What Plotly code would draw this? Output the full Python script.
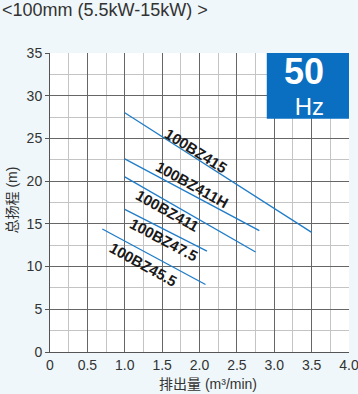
import plotly.graph_objects as go

# Data
models = ["100BZ415", "100BZ411H", "100BZ411", "100BZ47.5", "100BZ45.5"]
flow_start = [1.0, 1.0, 1.0, 1.0, 0.7]
flow_end = [3.5, 2.8, 2.75, 2.1, 2.08]
head_start = [28.0, 22.6, 20.5, 16.7, 14.4]
head_end = [14.0, 14.2, 11.7, 11.8, 7.9]
label_x = [1.95, 1.9, 1.57, 1.52, 1.25]
label_y = [23.6, 19.6, 16.6, 13.2, 10.2]
label_angle = [32, 29, 29, 28, 29]

x_ticks = [0, 0.5, 1.0, 1.5, 2.0, 2.5, 3.0, 3.5, 4.0]
x_tick_text = ["0", "0.5", "1.0", "1.5", "2.0", "2.5", "3.0", "3.5", "4.0"]
y_ticks = [0, 5, 10, 15, 20, 25, 30, 35]

FONT = "Liberation Sans, Arial, Noto Sans CJK SC, sans-serif"
LINE_COLOR = "#1f7cc9"
BLUE_BOX = "#0a6fc0"

fig = go.Figure()
for i, m in enumerate(models):
    fig.add_trace(go.Scatter(
        x=[flow_start[i], flow_end[i]],
        y=[head_start[i], head_end[i]],
        mode="lines",
        line=dict(color=LINE_COLOR, width=1.3),
        showlegend=False,
        hoverinfo="skip",
    ))
    fig.add_annotation(
        x=label_x[i], y=label_y[i], xref="x", yref="y",
        text="<b>" + m + "</b>", showarrow=False, textangle=label_angle[i],
        font=dict(family=FONT, size=15, color="#1a1a1a"),
    )

# 50 Hz box
fig.add_shape(type="rect", xref="x", yref="y", x0=2.9, x1=4.0, y0=27.3, y1=35,
              fillcolor=BLUE_BOX, line=dict(width=0), layer="above")
fig.add_annotation(x=3.69, y=31.25, xref="x", yref="y", xanchor="right", yanchor="middle",
                   align="right", showarrow=False,
                   text="<b><span style='font-size:36px'>50</span></b><br><span style='font-size:24px'>Hz</span>",
                   font=dict(family=FONT, size=24, color="white"))

# Title
fig.add_annotation(xref="paper", yref="paper", x=-0.166, y=1.144, xanchor="left", yanchor="middle",
                   text="&lt;100mm (5.5kW-15kW) &gt;", showarrow=False,
                   font=dict(family=FONT, size=18, color="#333333"))

# Axis titles
fig.add_annotation(xref="paper", yref="paper", x=0.527, y=-0.108, xanchor="center", yanchor="middle",
                   text="排出量 (m³/min)", showarrow=False,
                   font=dict(family=FONT, size=14, color="#333333"))
fig.add_annotation(xref="paper", yref="paper", x=-0.126, y=0.508, xanchor="center", yanchor="middle",
                   text="总扬程 (m)", showarrow=False, textangle=-90,
                   font=dict(family=FONT, size=14, color="#333333"))

fig.update_layout(
    width=358, height=394,
    margin=dict(l=50, r=9, t=53, b=42, pad=0),
    paper_bgcolor="#eff7fa",
    plot_bgcolor="white",
    font=dict(family=FONT, size=14, color="#333333"),
    xaxis=dict(
        range=[0, 4.0], tickvals=x_ticks, ticktext=x_tick_text, automargin=False,
        ticklabeloverflow="allow",
        showgrid=True, gridcolor="#666666", gridwidth=1,
        minor=dict(dtick=0.25, showgrid=True, gridcolor="#c4c4c4", gridwidth=1),
        showline=True, linecolor="#555555", linewidth=1,
        ticks="", zeroline=False, fixedrange=True,
    ),
    yaxis=dict(
        range=[0, 35], tickvals=y_ticks, automargin=False,
        showgrid=True, gridcolor="#666666", gridwidth=1,
        minor=dict(dtick=2.5, showgrid=True, gridcolor="#c4c4c4", gridwidth=1),
        showline=True, linecolor="#555555", linewidth=1,
        ticks="outside", ticklen=4, tickcolor="#555555",
        zeroline=False, fixedrange=True,
    ),
)

fig.write_html("out.html", config={"displayModeBar": False},
               post_script="document.body.style.margin='0';document.body.style.background='#eff7fa';")
